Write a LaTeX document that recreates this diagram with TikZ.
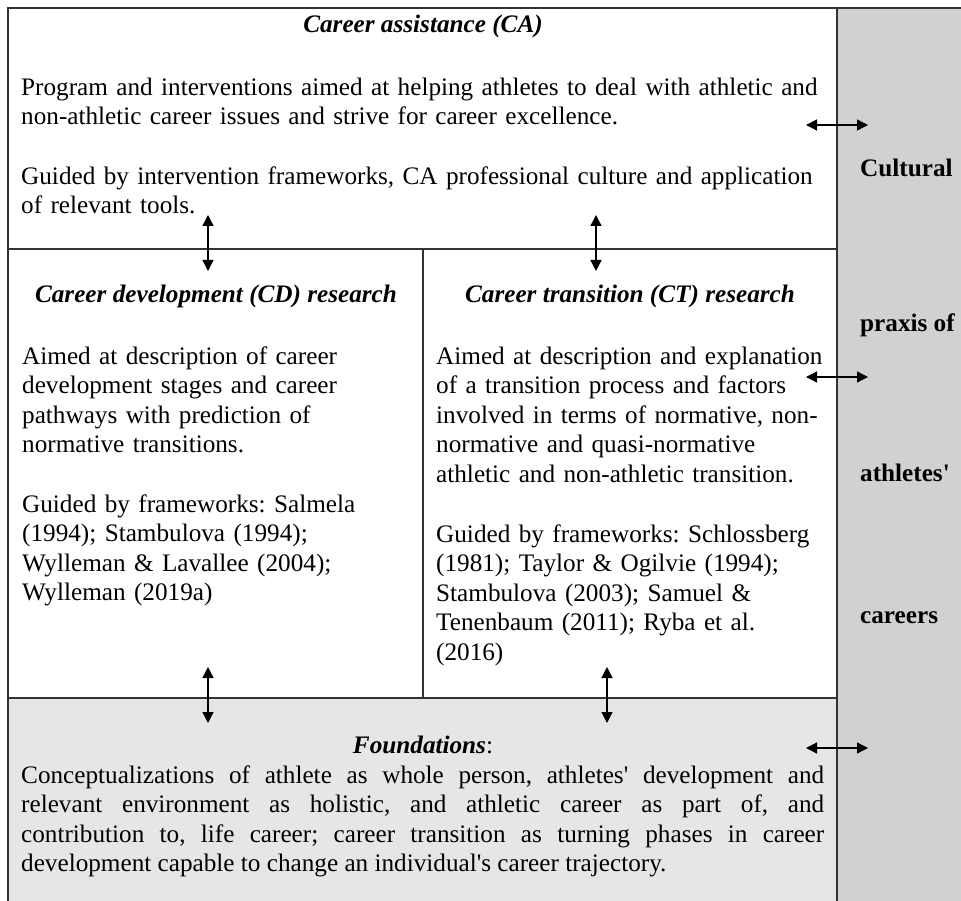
\documentclass[tikz,border=0pt]{standalone}
\usepackage{fontspec}
\setmainfont{Liberation Serif}
\usetikzlibrary{arrows.meta}
\definecolor{framegray}{HTML}{333333}
\definecolor{sidegray}{HTML}{D1D1D1}
\definecolor{basegray}{HTML}{E6E6E6}
\newcommand{\apos}{\textquotesingle}
\frenchspacing
\begin{document}
\begin{tikzpicture}[x=1pt,y=-1pt,
  frame/.style={draw=framegray,line width=1.6pt},
  twoway/.style={{Triangle[length=11pt,width=11pt]}-{Triangle[length=11pt,width=11pt]},line width=1.3pt},
  txt/.style={font=\fontsize{25.2}{29.5}\selectfont,inner sep=0pt},
  body/.style={txt,anchor=north west,align=left},
  head/.style={txt,font=\fontsize{25.2}{29.5}\selectfont\bfseries\itshape,anchor=base},
  side/.style={txt,font=\fontsize{25.2}{29.5}\selectfont\bfseries,anchor=base west}]
\useasboundingbox (0,0) rectangle (961,901);

% shaded column and foundation band
\fill[sidegray] (837,8) rectangle (961,901);
\fill[basegray] (8,698) rectangle (837,901);

% frame and cell rules
\draw[frame] (8,910) -- (8,8) -- (961,8);
\draw[frame] (837,8) -- (837,910);
\draw[frame] (8,249) -- (837,249);
\draw[frame] (8,698) -- (837,698);
\draw[frame] (423,249) -- (423,698);

% career assistance
\node[head] (caTitle) at (423,33) {Career assistance (CA)};
\node[body,text width=815pt] (caAim) at (21,74.35)
  {\strut Program and interventions aimed at helping athletes to deal with athletic and\\
   non-athletic career issues and strive for career excellence.};
\node[body,text width=815pt] (caGuide) at (21,163.35)
  {\strut Guided by intervention frameworks, CA professional culture and application\\
   of relevant tools.};

% career development research
\node[head] (cdTitle) at (216,303) {Career development (CD) research};
\node[body,text width=395pt] (cdAim) at (22,343.35)
  {\strut Aimed at description of career\\
   development stages and career\\
   pathways with prediction of\\
   normative transitions.};
\node[body,text width=395pt] (cdGuide) at (22,491.35)
  {\strut Guided by frameworks: Salmela\\
   (1994); Stambulova (1994);\\
   Wylleman \& Lavallee (2004);\\
   Wylleman (2019a)};

% career transition research
\node[head] (ctTitle) at (630,303) {Career transition (CT) research};
\node[body,text width=398pt] (ctAim) at (436,343.35)
  {\strut Aimed at description and explanation\\
   of a transition process and factors\\
   involved in terms of normative, non-\\
   normative and quasi-normative\\
   athletic and non-athletic transition.};
\node[body,text width=398pt] (ctGuide) at (436,521.35)
  {\strut Guided by frameworks: Schlossberg\\
   (1981); Taylor \& Ogilvie (1994);\\
   Stambulova (2003); Samuel \&\\
   Tenenbaum (2011); Ryba et al.\\
   (2016)};

% foundations
\node[txt,anchor=base] (fdTitle) at (423,753) {\bfseries\itshape Foundations\normalfont:};
\node[txt,anchor=north west,text width=803pt,align=justify] (fdText) at (21,762.35)
  {\noindent\strut Conceptualizations of athlete as whole person, athletes\apos{} development and\linebreak
   relevant environment as holistic, and athletic career as part of, and\linebreak
   contribution to, life career; career transition as turning phases in career\linebreak
   development capable to change an individual\apos s career trajectory.};

% side column
\node[side] (sd1) at (860,177) {Cultural};
\node[side] (sd2) at (860,331) {praxis of};
\node[side] (sd3) at (860,481) {athletes\apos};
\node[side] (sd4) at (860,623) {careers};

% links between levels
\coordinate (caL) at (208,215);  \coordinate (cdT) at (208,271);
\coordinate (caR) at (596,215);  \coordinate (ctT) at (596,271);
\coordinate (cdB) at (208,667);  \coordinate (fdL) at (208,723);
\coordinate (ctB) at (607,667);  \coordinate (fdR) at (607,723);
\draw[twoway] (caL) -- (cdT);
\draw[twoway] (caR) -- (ctT);
\draw[twoway] (cdB) -- (fdL);
\draw[twoway] (ctB) -- (fdR);

% links to the side column
\coordinate (h1a) at (806,125); \coordinate (h1b) at (868,125);
\coordinate (h2a) at (806,377); \coordinate (h2b) at (868,377);
\coordinate (h3a) at (806,748); \coordinate (h3b) at (868,748);
\draw[twoway] (h1a) -- (h1b);
\draw[twoway] (h2a) -- (h2b);
\draw[twoway] (h3a) -- (h3b);
\end{tikzpicture}
\end{document}
